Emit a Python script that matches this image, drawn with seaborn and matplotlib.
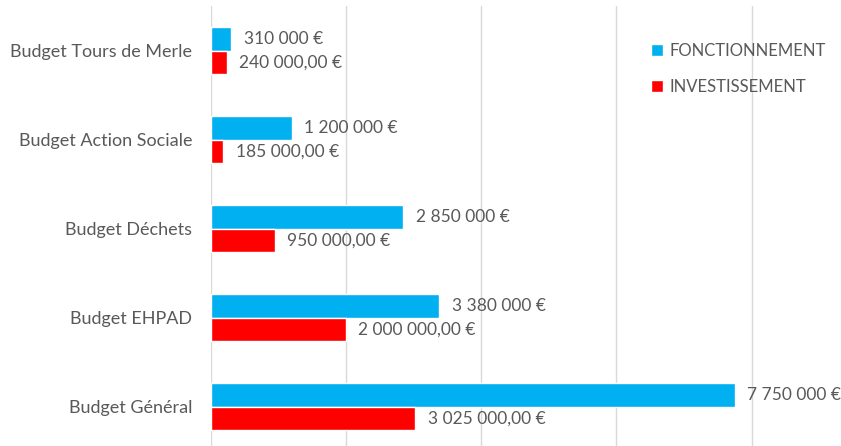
import pandas as pd
import seaborn as sns
import matplotlib.pyplot as plt
from matplotlib.patches import Patch

categories = ["Budget Tours de Merle", "Budget Action Sociale", "Budget Déchets",
              "Budget EHPAD", "Budget Général"]
fonctionnement = [310000, 1200000, 2850000, 3380000, 7750000]
investissement = [240000, 185000, 950000, 2000000, 3025000]
series = ["FONCTIONNEMENT", "INVESTISSEMENT"]
colors = ["#00B0F0", "#FF0000"]


def fmt_fonct(v):
    return f"{v:,.0f} €".replace(",", " ")


def fmt_invest(v):
    s = f"{v:,.2f}".replace(",", " ").replace(".", ",")
    return s + " €"


df = pd.DataFrame({
    "budget": categories * 2,
    "serie": [series[0]] * len(categories) + [series[1]] * len(categories),
    "montant": fonctionnement + investissement,
})

sns.set_style("white")
plt.rcParams['font.family'] = ['Lato', 'DejaVu Sans']
text_color = "#595959"

fig = plt.figure(figsize=(8.41, 4.46), dpi=100)
ax = fig.add_axes([210.5 / 841, 0, (841 - 210.5) / 841, 440 / 446])
sns.barplot(data=df, y="budget", x="montant", hue="serie", order=categories,
            hue_order=series, palette=colors, orient="h", width=0.53,
            saturation=1, ax=ax, legend=False)

ax.set_xlim(0, 9.32e6)
ax.set_ylim(4.44, -0.5)
ax.set_xticks([0, 2e6, 4e6, 6e6, 8e6])
ax.set_xticklabels([])
ax.grid(axis="x", color="#D9D9D9", linewidth=1)
ax.set_axisbelow(True)
for s in ax.spines.values():
    s.set_visible(False)
ax.tick_params(axis="both", length=0)
ax.tick_params(axis="y", pad=13, labelsize=13, labelcolor=text_color)
ax.set_xlabel("")
ax.set_ylabel("")

for cont, fmt in zip(ax.containers, [fmt_fonct, fmt_invest]):
    ax.bar_label(cont, labels=[fmt(b.get_width()) for b in cont], padding=9,
                 fontsize=12.5, color=text_color)

handles = [Patch(facecolor=c, label=l) for c, l in zip(colors, series)]
fig.legend(handles=handles, loc="upper left", bbox_to_anchor=(636 / 841, 1 - 28 / 446),
           frameon=False, fontsize=12, labelcolor=text_color, handlelength=0.7,
           handleheight=0.7, handletextpad=0.4, labelspacing=1.2)

fig.savefig("out.png", dpi=100)
